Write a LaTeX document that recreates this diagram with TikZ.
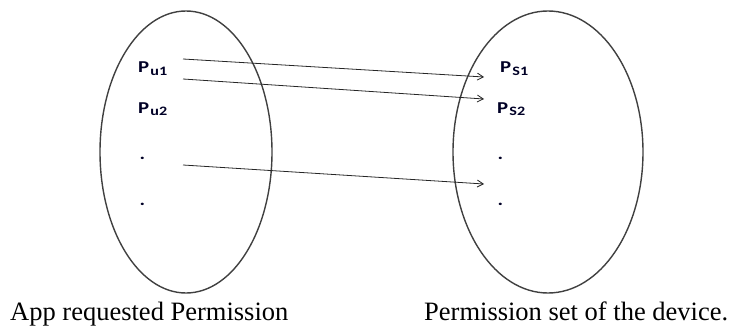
\documentclass[tikz,border=0pt]{standalone}
\usepackage{fontspec}
\setmainfont{Liberation Serif}
\newfontfamily\labelfont[FakeStretch=1.25]{Carlito}
\usetikzlibrary{arrows.meta}
% permission label: main letter with a lowered, smaller index
\newcommand{\permlabel}[2]{#1\kern1.2pt\raisebox{-2pt}{\fontsize{12.9}{13}\selectfont #2}}
\begin{document}
\begin{tikzpicture}[x=1pt,y=-1pt,
  setshape/.style={draw=black!75, line width=1.4pt},
  perm/.style={font=\labelfont\bfseries\fontsize{16.6}{17}\selectfont, text=black!85!blue, inner sep=0pt, anchor=base west},
  mapline/.style={draw=black!85, line width=0.8pt, -{Straight Barb[length=6pt,width=7pt]}},
  caption/.style={font=\fontsize{26.5}{28}\selectfont, inner sep=0pt, anchor=base west}]
  \useasboundingbox (0,0) rectangle (731,329);

  % the two sets
  \draw[setshape] (186,152) ellipse [x radius=86, y radius=141];
  \draw[setshape] (548,152) ellipse [x radius=95, y radius=141];

  % requested permissions
  \node[perm] (pu1) at (138,73) {\permlabel{P}{u1}};
  \node[perm] (pu2) at (138,113) {\permlabel{P}{u2}};
  \node[perm] (pu3) at (139.5,159.5) {.};
  \node[perm] (pu4) at (139.5,205.5) {.};

  % device permissions
  \node[perm] (ps1) at (500,73) {\permlabel{P}{S1}};
  \node[perm] (ps2) at (497,113) {\permlabel{P}{S2}};
  \node[perm] (ps3) at (497.5,159.5) {.};
  \node[perm] (ps4) at (497.5,205.5) {.};

  % arrow ends
  \coordinate (a1) at (183,59);
  \coordinate (b1) at (484,77);
  \coordinate (a2) at (183,79);
  \coordinate (b2) at (484,99);
  \coordinate (a3) at (183,165);
  \coordinate (b3) at (484,184);
  \draw[mapline] (a1) -- (b1);
  \draw[mapline] (a2) -- (b2);
  \draw[mapline] (a3) -- (b3);

  % captions
  \node[caption] (capl) at (10,320.5) {App requested Permission};
  \node[caption] (capr) at (424,320.5) {Permission set of the device.};
\end{tikzpicture}
\end{document}
